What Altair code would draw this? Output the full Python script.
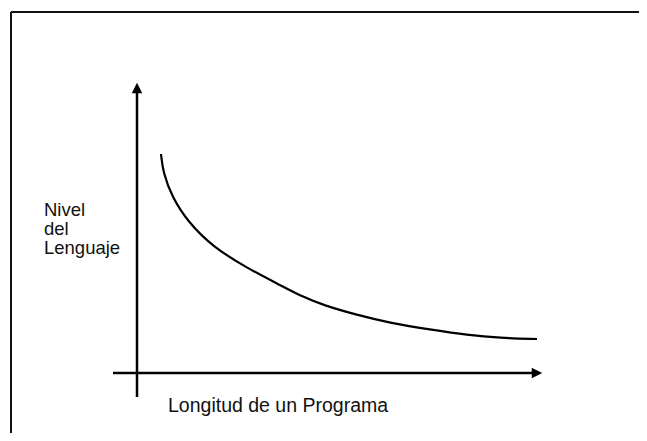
import altair as alt
import pandas as pd

# Curve: "Nivel del Lenguaje" vs "Longitud de un Programa" (arbitrary units)
curve_x = [2.4, 2.6, 3.5, 5.1, 7.6, 11.0, 14.3, 16.6, 18.6, 22.0, 25.3, 29.6, 33.0, 36.3, 40.0]
curve_y = [21.9, 20.1, 17.6, 15.1, 12.6, 10.5, 8.8, 7.6, 6.8, 5.8, 5.0, 4.3, 3.8, 3.5, 3.4]

# Axis arrows (drawn in data units)
axis_x_start = [-2.4, 0.0]
axis_x_end = [40.0, 0.0]
axis_y_start = [0.0, -2.4]
axis_y_end = [0.0, 28.5]
arrow_x = [0.0, 40.0]
arrow_y = [28.5, 0.0]
arrow_angle = [0, 90]

# Frame lines (top and left)
frame_x = [-12.6, -12.6]
frame_x2 = [50.2, -12.6]
frame_y = [36.1, -6.0]
frame_y2 = [36.1, 36.1]

# Labels
ylabel_text = ["Nivel", "del", "Lenguaje"]
ylabel_x = [-9.3, -9.3, -9.3]
ylabel_y = [15.7, 13.8, 11.9]
xlabel_text = ["Longitud de un Programa"]
xlabel_x = [3.1]
xlabel_y = [-3.9]

xs = alt.Scale(domain=[-12.9, 50.2], nice=False, zero=False)
ys = alt.Scale(domain=[-6.0, 36.5], nice=False, zero=False)

curve_df = pd.DataFrame({"x": curve_x, "y": curve_y})
axes_df = pd.DataFrame({"x": axis_x_start, "x2": axis_x_end, "y": axis_y_start, "y2": axis_y_end})
arrow_df = pd.DataFrame({"x": arrow_x, "y": arrow_y, "angle": arrow_angle})
frame_df = pd.DataFrame({"x": frame_x, "x2": frame_x2, "y": frame_y, "y2": frame_y2})
ylabel_df = pd.DataFrame({"t": ylabel_text, "x": ylabel_x, "y": ylabel_y})
xlabel_df = pd.DataFrame({"t": xlabel_text, "x": xlabel_x, "y": xlabel_y})

frame = alt.Chart(frame_df).mark_rule(color="#111", strokeWidth=2).encode(
    x=alt.X("x:Q", scale=xs, axis=None), x2="x2:Q",
    y=alt.Y("y:Q", scale=ys, axis=None), y2="y2:Q")

axes = alt.Chart(axes_df).mark_rule(color="#000", strokeWidth=2.5).encode(
    x=alt.X("x:Q", scale=xs, axis=None), x2="x2:Q",
    y=alt.Y("y:Q", scale=ys, axis=None), y2="y2:Q")

arrows = alt.Chart(arrow_df).mark_point(
    shape="M0,-1L1,1L-1,1Z", filled=True, size=110, color="#000", opacity=1, strokeWidth=0
).encode(
    x=alt.X("x:Q", scale=xs, axis=None),
    y=alt.Y("y:Q", scale=ys, axis=None),
    angle=alt.Angle("angle:Q", scale=None))

curve = alt.Chart(curve_df).mark_line(color="#000", strokeWidth=2.2, interpolate="basis").encode(
    x=alt.X("x:Q", scale=xs, axis=None),
    y=alt.Y("y:Q", scale=ys, axis=None))

ylabels = alt.Chart(ylabel_df).mark_text(
    align="left", baseline="alphabetic", font="Liberation Sans", fontSize=18.5, color="#111"
).encode(
    x=alt.X("x:Q", scale=xs, axis=None),
    y=alt.Y("y:Q", scale=ys, axis=None),
    text="t:N")

xlabels = alt.Chart(xlabel_df).mark_text(
    align="left", baseline="alphabetic", font="Liberation Sans", fontSize=19.5, color="#111"
).encode(
    x=alt.X("x:Q", scale=xs, axis=None),
    y=alt.Y("y:Q", scale=ys, axis=None),
    text="t:N")

chart = alt.layer(frame, axes, arrows, curve, ylabels, xlabels).properties(
    width=631, height=425, autosize=alt.AutoSizeParams(type="none"), padding=0,
    background="white"
).configure_view(stroke=None)

chart.save("out.html", embed_options={"renderer": "svg", "actions": False})
